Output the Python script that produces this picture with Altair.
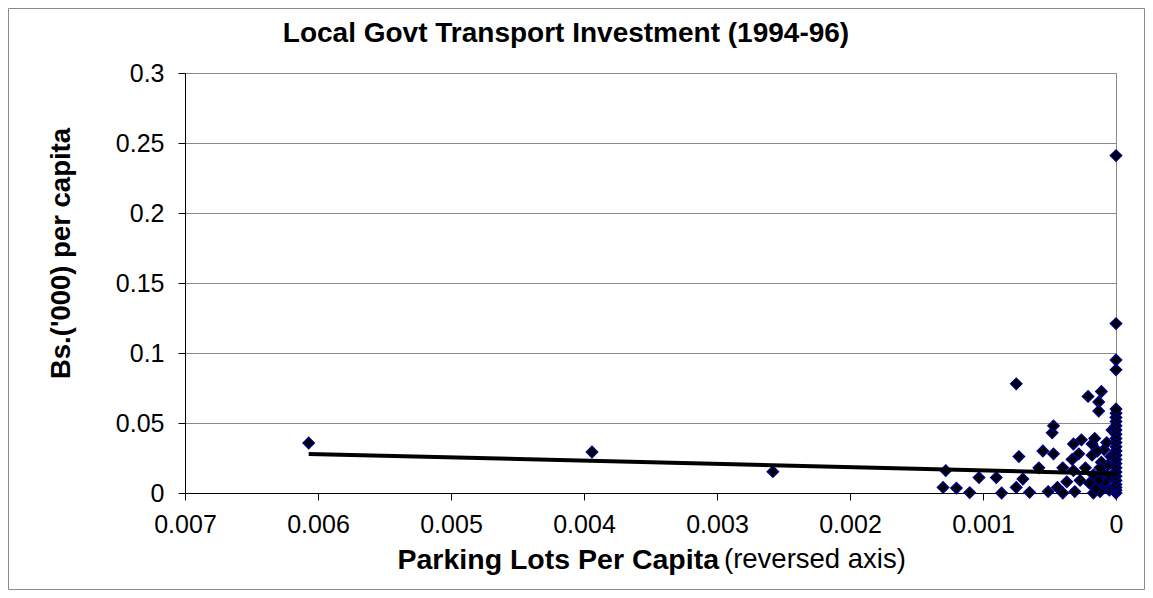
import altair as alt
import pandas as pd

# ---- data ----
parking_per_capita = [
    0.00607, 0.00394, 0.00258,
    0.00128, 0.00130, 0.00120, 0.00110, 0.00103, 0.00090, 0.00086,
    0.00075, 0.00075, 0.00073, 0.00070, 0.00065, 0.00058, 0.00055,
    0.00051, 0.00048, 0.00047, 0.00047, 0.00044, 0.00040, 0.00040,
    0.00037, 0.00033, 0.00032, 0.00032, 0.00031, 0.00028, 0.00027,
    0.00026, 0.00023, 0.00020, 0.00021, 0.00018, 0.00018, 0.00017,
    0.00017, 0.00013, 0.00013, 0.00016, 0.00011,
    0.00005, 0.00010, 0.00008, 0.00004, 0.00010, 0.00006, 0.00011,
    0.00004, 0.00009, 0.00012, 0.00007, 0.00003, 0.00012, 0.00015,
    0.00013, 0.00014,
    0.0, 0.0, 0.0, 0.0, 0.0, 0.0, 0.0, 0.0, 0.0, 0.0, 0.0, 0.0, 0.0,
    0.0, 0.0, 0.0, 0.0, 0.0, 0.0, 0.0, 0.0, 0.0, 0.0, 0.0, 0.0, 0.0,
]
invest_per_capita = [
    0.0357, 0.0293, 0.0152,
    0.0160, 0.0040, 0.0035, 0.0003, 0.0110, 0.0110, 0.0000,
    0.0780, 0.0040, 0.0260, 0.0100, 0.0005, 0.0180, 0.0300,
    0.0010, 0.0430, 0.0480, 0.0280, 0.0040, 0.0180, 0.0000,
    0.0080, 0.0240, 0.0350, 0.0160, 0.0010, 0.0280, 0.0090,
    0.0380, 0.0180, 0.0070, 0.0690, 0.0350, 0.0270, 0.0000,
    0.0130, 0.0650, 0.0585, 0.0390, 0.0725,
    0.0020, 0.0040, 0.0080, 0.0120, 0.0150, 0.0200, 0.0220,
    0.0260, 0.0310, 0.0180, 0.0360, 0.0450, 0.0010, 0.0030,
    0.0090, 0.0300,
    0.0000, 0.0020, 0.0040, 0.0060, 0.0090, 0.0120, 0.0150, 0.0180,
    0.0210, 0.0240, 0.0270, 0.0300, 0.0330, 0.0360, 0.0390, 0.0420,
    0.0450, 0.0480, 0.0510, 0.0540, 0.0570, 0.0600, 0.0880, 0.0950,
    0.1210, 0.2410,
]
trend_x = [0.00607, 0.0]
trend_y = [0.0279, 0.0138]

x_ticks = [0.007, 0.006, 0.005, 0.004, 0.003, 0.002, 0.001, 0.0]
y_ticks = [0.0, 0.05, 0.1, 0.15, 0.2, 0.25, 0.3]

chart_title = "Local Govt Transport Investment (1994-96)"
x_title_bold = "Parking Lots Per Capita"
x_title_note = "(reversed axis)"
y_title = "Bs.('000) per capita"

FONT = "Liberation Sans"
W, H = 931, 420
PAD = {"left": 177, "top": 65, "right": 29, "bottom": 97}

pts = pd.DataFrame({"parking": parking_per_capita, "invest": invest_per_capita})
trend = pd.DataFrame({"parking": trend_x, "invest": trend_y})

xscale = alt.Scale(domain=[0, 0.007], reverse=True, nice=False, zero=False)
yscale = alt.Scale(domain=[0, 0.3], nice=False)

xaxis = alt.Axis(
    values=x_ticks, format="~g", grid=False,
    tickSize=7, tickColor="black", domainColor="black", domainWidth=1,
    labelFont=FONT, labelFontSize=25, labelColor="black", labelPadding=12,
    labelFlush=False, labelOverlap=False,
    title=x_title_bold, titleFont=FONT, titleFontSize=28.5, titleFontWeight="bold",
    titleColor="black", titleX=212, titleY=75, titleAlign="left",
    titleBaseline="alphabetic", titleAnchor="start",
)
yaxis = alt.Axis(
    values=y_ticks, format="~g", grid=True, gridColor="#8a8a8a", gridWidth=1,
    tickSize=7, tickColor="black", domainColor="black", domainWidth=1,
    labelFont=FONT, labelFontSize=25, labelColor="black", labelPadding=14,
    labelFlush=False, labelOverlap=False,
    title=y_title, titleFont=FONT, titleFontSize=27.5, titleFontWeight="bold",
    titleColor="black", titleAngle=270, titleX=-116, titleY=180,
    titleAlign="center", titleBaseline="alphabetic",
)

points = alt.Chart(pts).mark_point(
    shape="diamond", fill="black", stroke="#000080", strokeWidth=1.5,
    size=125, opacity=1, fillOpacity=1, strokeOpacity=1, clip=False,
).encode(
    x=alt.X("parking:Q", scale=xscale, axis=xaxis),
    y=alt.Y("invest:Q", scale=yscale, axis=yaxis),
)

line = alt.Chart(trend).mark_line(color="black", strokeWidth=4).encode(
    x=alt.X("parking:Q", scale=xscale),
    y=alt.Y("invest:Q", scale=yscale),
)

title_txt = alt.Chart(pd.DataFrame({"t": [chart_title]})).mark_text(
    font=FONT, fontSize=28, fontWeight="bold", color="black",
    align="center", baseline="alphabetic",
).encode(text="t:N", x=alt.value(381), y=alt.value(-31))

note_txt = alt.Chart(pd.DataFrame({"t": [x_title_note]})).mark_text(
    font=FONT, fontSize=27.5, fontWeight="normal", color="black",
    align="left", baseline="alphabetic",
).encode(text="t:N", x=alt.value(539), y=alt.value(H + 75))

border = alt.Chart(pd.DataFrame({"k": [1]})).mark_rect(
    fill=None, stroke="#8a8a8a", strokeWidth=1, clip=False,
).encode(
    x=alt.value(-PAD["left"] + 0.5), x2=alt.value(W + PAD["right"] - 0.5),
    y=alt.value(-PAD["top"] + 0.5), y2=alt.value(H + PAD["bottom"] - 0.5),
)

chart = alt.layer(border, points, line, title_txt, note_txt).properties(
    width=W, height=H, autosize=alt.AutoSizeParams(type="none"), padding=PAD,
    background="white",
).configure_view(stroke="#8a8a8a", strokeWidth=1)

chart.save("out.html", embed_options={"renderer": "svg", "actions": False})
